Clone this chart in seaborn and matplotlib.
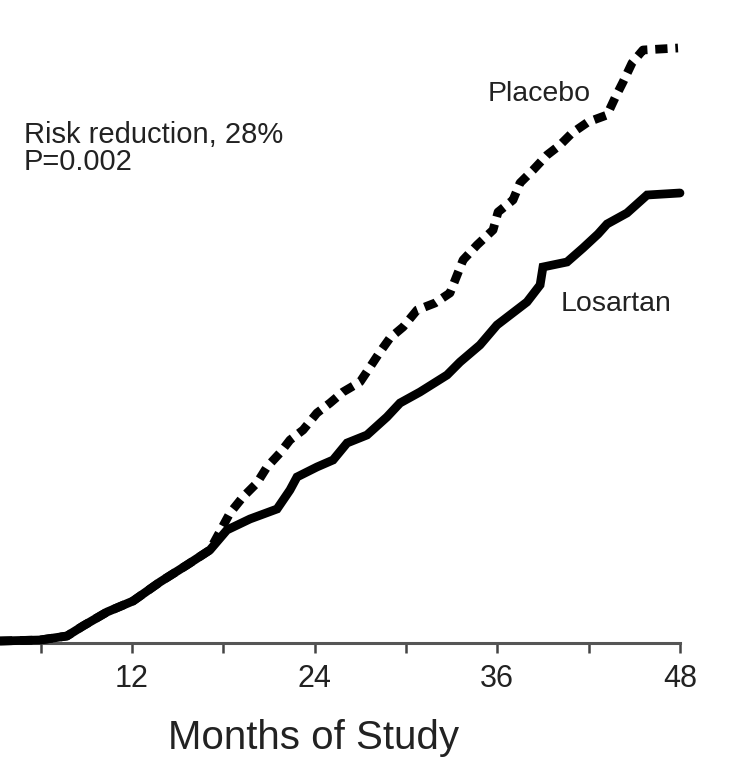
import numpy as np
import pandas as pd
import matplotlib
matplotlib.use('Agg')
import matplotlib.pyplot as plt
import seaborn as sns

# Data (months, cumulative percent)
losartan_months = [3.33, 5.96, 7.73, 8.78, 10.36, 12.07, 13.84, 15.61, 17.12, 18.24,
                   19.75, 21.53, 22.38, 22.84, 24.15, 25.21, 26.13, 27.44, 28.75, 29.61,
                   30.92, 32.70, 33.55, 34.86, 35.98, 37.95, 38.81, 39.0, 40.58, 41.63,
                   42.62, 43.21, 44.52, 45.84, 48.0]
losartan_pct = [0.1, 0.15, 0.35, 0.85, 1.55, 2.1, 3.05, 3.9, 4.65, 5.65,
                6.2, 6.7, 7.65, 8.3, 8.8, 9.15, 10.0, 10.4, 11.3, 12.0,
                12.55, 13.4, 14.05, 14.9, 15.9, 17.05, 17.9, 18.8, 19.05, 19.75,
                20.45, 20.95, 21.5, 22.4, 22.5]

placebo_months = [3.33, 5.96, 7.73, 8.78, 10.36, 12.07, 13.84, 15.61, 17.12, 18.44,
                  19.29, 20.21, 20.87, 21.72, 22.38, 23.24, 24.15, 25.01, 25.86, 26.98,
                  27.64, 28.29, 28.95, 29.81, 30.73, 31.91, 32.89, 33.75, 34.67, 35.72,
                  36.05, 37.03, 37.49, 38.35, 39.27, 40.12, 40.91, 41.96, 43.21, 43.73,
                  44.26, 44.85, 45.57, 47.87]
placebo_pct = [0.1, 0.15, 0.35, 0.85, 1.55, 2.1, 3.05, 3.9, 4.65, 6.5,
               7.3, 8.0, 8.8, 9.5, 10.15, 10.65, 11.5, 12.0, 12.55, 13.05,
               13.8, 14.55, 15.25, 15.8, 16.65, 17.0, 17.5, 19.15, 19.9, 20.65,
               21.55, 22.15, 23.0, 23.65, 24.4, 24.9, 25.5, 26.05, 26.4, 27.25,
               28.05, 29.0, 29.65, 29.75]

major_ticks = [12, 24, 36, 48]
minor_ticks = [6, 18, 30, 42]

sns.set_style('white')
plt.rcParams['font.family'] = ['Liberation Sans', 'DejaVu Sans']

fig = plt.figure(figsize=(7.43, 7.63), dpi=100)
ax = fig.add_axes([0, 120 / 763, 1, 643 / 763])

df_los = pd.DataFrame({'month': losartan_months, 'pct': losartan_pct})
df_pla = pd.DataFrame({'month': placebo_months, 'pct': placebo_pct})

sns.lineplot(data=df_pla, x='month', y='pct', ax=ax, color='black', lw=6.3,
             linestyle=(0, (1.4, 0.9)), clip_on=False, zorder=3)
sns.lineplot(data=df_los, x='month', y='pct', ax=ax, color='black', lw=6.3,
             solid_joinstyle='miter', clip_on=False, zorder=4)

ax.set_xlim(3.33, 52.14)
ax.set_ylim(0, 32.15)

for s in ['left', 'top', 'right']:
    ax.spines[s].set_visible(False)
ax.spines['bottom'].set_bounds(3.33, 48)
ax.spines['bottom'].set_color('#555555')
ax.spines['bottom'].set_linewidth(2.2)

ax.set_yticks([])
ax.set_xticks(major_ticks)
ax.set_xticks(minor_ticks, minor=True)
ax.tick_params(axis='x', which='both', direction='out', length=7, width=1.8,
               color='#444444', bottom=True, labelsize=22, labelcolor='#222222', pad=8)
ax.set_xlabel('')
ax.set_ylabel('')

ax.text(4.9, 25.0, 'Risk reduction, 28%', fontsize=21, color='#222222', va='baseline')
ax.text(4.9, 23.65, 'P=0.002', fontsize=21, color='#222222', va='baseline')
ax.text(35.39, 27.1, 'Placebo', fontsize=20.5, color='#222222', va='baseline')
ax.text(40.19, 16.6, 'Losartan', fontsize=20.5, color='#222222', va='baseline')

fig.text(313 / 743, 14 / 763, 'Months of Study', fontsize=29, color='#222222',
         ha='center', va='baseline')

fig.savefig('out.png', dpi=100, facecolor='white')
